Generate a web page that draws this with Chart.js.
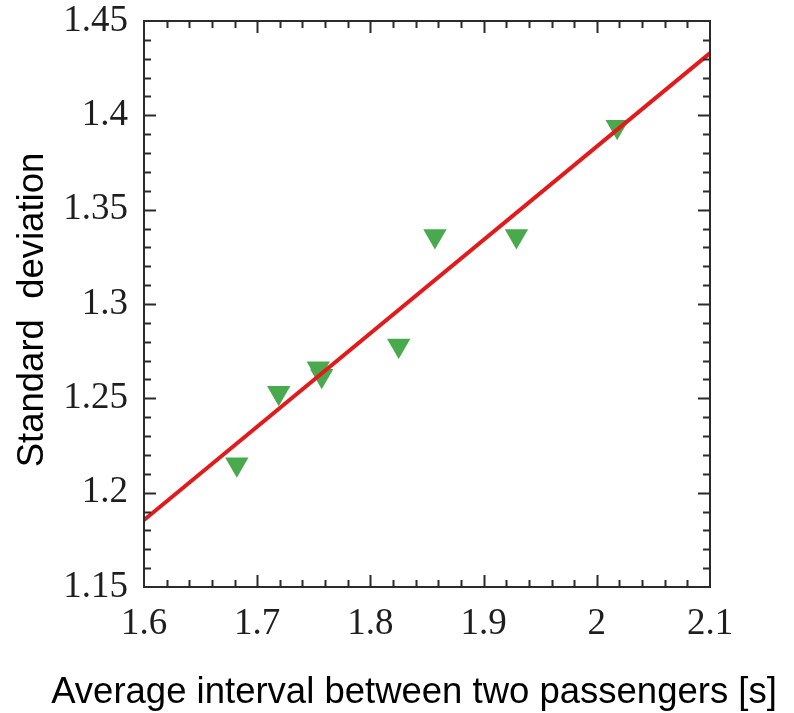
<!DOCTYPE html>
<html>
<head>
<meta charset="utf-8">
<script src="https://cdn.jsdelivr.net/npm/chart.js@4.4.1/dist/chart.umd.min.js"></script>
<style>
  html, body { margin: 0; padding: 0; background: #fff; }
  #wrap { width: 794px; height: 713px; }
</style>
</head>
<body>
<div id="wrap"><canvas id="c" width="794" height="713"></canvas></div>
<script>
// Measured interval (s) vs. standard deviation
const intervalX = [1.682, 1.719, 1.754, 1.757, 1.825, 1.857, 1.929, 2.018];
const stdDevY   = [1.215, 1.253, 1.266, 1.262, 1.278, 1.336, 1.336, 1.394];

// Linear fit drawn across the plotted range
const fitX = [1.6, 2.1];
const fitY = [1.1855, 1.433];

// Axis ranges and tick spacing
const xRange = [1.6, 2.1];
const yRange = [1.15, 1.45];
const xMajorStep = 0.1, xMinorStep = 0.02;
const yMajorStep = 0.05, yMinorStep = 0.01;

const xTitle = 'Average interval between two passengers [s]';
const yTitle = 'Standard  deviation';

const frameColor = '#2b2b2b';
const tickFont = { family: '"Liberation Serif", "Times New Roman", serif', size: 37, lineHeight: 1 };
const titleFont = '36.5px "Liberation Sans", Arial, sans-serif';

function fmt(v) { return String(Number(v.toFixed(2))); }

// Frame with inward major/minor ticks on all four sides
const frameTicks = {
  id: 'frameTicks',
  afterDatasetsDraw(chart) {
    const { ctx, chartArea: a, scales: { x, y } } = chart;
    ctx.save();
    ctx.strokeStyle = frameColor;
    ctx.lineWidth = 2;
    ctx.strokeRect(a.left, a.top, a.right - a.left, a.bottom - a.top);
    const nx = Math.round((xRange[1] - xRange[0]) / xMinorStep);
    const perX = Math.round(xMajorStep / xMinorStep);
    ctx.beginPath();
    for (let i = 1; i < nx; i++) {
      const px = Math.round(x.getPixelForValue(xRange[0] + i * xMinorStep)) + 0.5;
      const len = (i % perX === 0) ? 12 : 7;
      ctx.moveTo(px, a.bottom); ctx.lineTo(px, a.bottom - len);
      ctx.moveTo(px, a.top); ctx.lineTo(px, a.top + len);
    }
    const ny = Math.round((yRange[1] - yRange[0]) / yMinorStep);
    const perY = Math.round(yMajorStep / yMinorStep);
    for (let i = 1; i < ny; i++) {
      const py = Math.round(y.getPixelForValue(yRange[0] + i * yMinorStep)) + 0.5;
      const len = (i % perY === 0) ? 12 : 7;
      ctx.moveTo(a.left, py); ctx.lineTo(a.left + len, py);
      ctx.moveTo(a.right, py); ctx.lineTo(a.right - len, py);
    }
    ctx.lineWidth = 2;
    ctx.stroke();
    ctx.restore();
  }
};

// Axis captions
const axisCaptions = {
  id: 'axisCaptions',
  afterDraw(chart) {
    const { ctx, chartArea: a } = chart;
    ctx.save();
    ctx.fillStyle = '#000';
    ctx.font = titleFont;
    ctx.textAlign = 'center';
    ctx.textBaseline = 'alphabetic';
    ctx.fillText(xTitle, (a.left + a.right) / 2 - 13, chart.height - 10);
    ctx.translate(43, (a.top + a.bottom) / 2 + 6);
    ctx.rotate(-Math.PI / 2);
    ctx.fillText(yTitle, 0, 0);
    ctx.restore();
  }
};

new Chart(document.getElementById('c'), {
  data: {
    datasets: [
      {
        type: 'line',
        label: 'fit',
        data: fitX.map((v, i) => ({ x: v, y: fitY[i] })),
        borderColor: '#e31a1c',
        borderWidth: 4,
        pointRadius: 0,
        fill: false,
        order: 0
      },
      {
        type: 'scatter',
        label: 'measured',
        data: intervalX.map((v, i) => ({ x: v, y: stdDevY[i] })),
        pointStyle: 'triangle',
        rotation: 180,
        pointRadius: 13.5,
        backgroundColor: '#48aa4c',
        borderColor: '#48aa4c',
        borderWidth: 0,
        order: 1
      }
    ]
  },
  options: {
    responsive: false,
    animation: false,
    layout: { padding: { top: 21, right: 84, left: 0, bottom: 0 } },
    plugins: { legend: { display: false }, tooltip: { enabled: false } },
    scales: {
      x: {
        type: 'linear',
        min: xRange[0], max: xRange[1],
        grid: { display: false, drawTicks: false },
        border: { display: false },
        ticks: { stepSize: xMajorStep, padding: 19, color: '#1e1e1e', font: tickFont, callback: fmt, maxRotation: 0 },
        afterFit(s) { s.height = 126; s.paddingLeft = 0; s.paddingRight = 0; }
      },
      y: {
        type: 'linear',
        min: yRange[0], max: yRange[1],
        grid: { display: false, drawTicks: false },
        border: { display: false },
        ticks: { stepSize: yMajorStep, padding: 16, color: '#1e1e1e', font: tickFont, callback: fmt },
        afterFit(s) { s.width = 144; s.paddingTop = 0; s.paddingBottom = 0; }
      }
    }
  },
  plugins: [frameTicks, axisCaptions]
});
</script>
</body>
</html>
